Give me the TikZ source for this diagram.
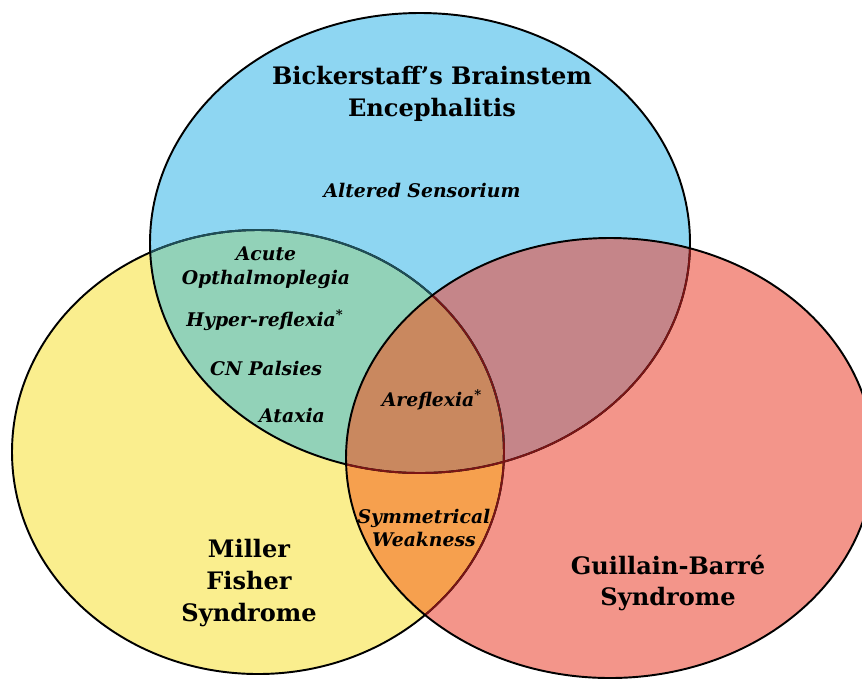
\documentclass[tikz,border=0pt]{standalone}
\usepackage{fontspec}
\setmainfont{DejaVu Serif}
\definecolor{bbeblue}{HTML}{8ED6F2}
\definecolor{mfsyellow}{HTML}{FAEE8E}
\definecolor{gbsred}{HTML}{F3958A}
\definecolor{bbemfs}{HTML}{92D2B8}
\definecolor{bbegbs}{HTML}{C58589}
\definecolor{mfsgbs}{HTML}{F6A04E}
\definecolor{allthree}{HTML}{C9885F}
\definecolor{tealline}{HTML}{1E4E58}
\definecolor{redline}{HTML}{7A1515}
\tikzset{
  edge/.style={line width=1.1pt, draw=black},
  grp/.style={font=\fontsize{13.7}{18}\selectfont\bfseries, align=center, text=black},
  sign/.style={font=\fontsize{10.7}{13.6}\selectfont\bfseries\itshape, align=center, text=black},
}
\begin{document}
\begin{tikzpicture}[x=0.02cm, y=-0.02cm]
  \useasboundingbox (0,0) rectangle (862,681);
  \def\bbeell{(420,243) ellipse [x radius=270, y radius=230]}
  \def\mfsell{(258,452) ellipse [x radius=246, y radius=222]}
  \def\gbsell{(610,458) ellipse [x radius=264, y radius=220]}
  % plain fills
  \fill[mfsyellow] \mfsell;
  \fill[bbeblue] \bbeell;
  \fill[gbsred] \gbsell;
  % overlaps
  \begin{scope}
    \clip \mfsell;
    \fill[mfsgbs] \gbsell;
    \fill[bbemfs] \bbeell;
  \end{scope}
  \begin{scope}
    \clip \bbeell;
    \fill[bbegbs] \gbsell;
    \clip \mfsell;
    \fill[allthree] \gbsell;
  \end{scope}
  % outlines
  \draw[edge] \mfsell;
  \begin{scope}
    \clip \bbeell;
    \draw[edge, draw=tealline] \mfsell;
  \end{scope}
  \draw[edge] \bbeell;
  \begin{scope}
    \clip \gbsell;
    \draw[edge, draw=redline] \mfsell \bbeell;
  \end{scope}
  \draw[edge] \gbsell;
  % labels
  \node[grp] (bbe) at (432,94) {Bickerstaff's Brainstem\\Encephalitis};
  \node[grp] (mfs) at (249,583) {Miller\\Fisher\\Syndrome};
  \node[grp] (gbs) at (668,583) {Guillain-Barré\\Syndrome};
  \node[sign] (altsens) at (422,190) {Altered Sensorium};
  \node[sign] (acute) at (266,268) {Acute\\Opthalmoplegia};
  \node[sign] (hyper) at (265,320) {Hyper-reflexia\textsuperscript{*}};
  \node[sign] (cnp) at (266,368) {CN Palsies};
  \node[sign] (ataxia) at (292,415) {Ataxia};
  \node[sign] (areflex) at (432,400) {Areflexia\textsuperscript{*}};
  \node[sign] (symweak) at (424,528) {Symmetrical\\Weakness};
\end{tikzpicture}
\end{document}
